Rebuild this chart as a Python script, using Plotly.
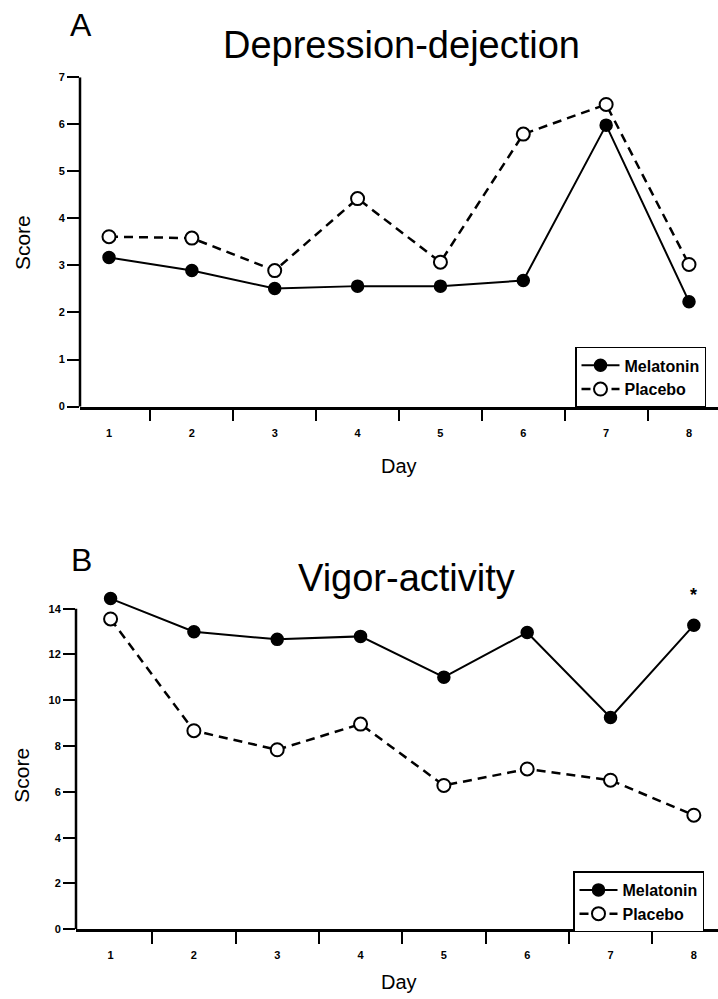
import plotly.graph_objects as go

days = [1, 2, 3, 4, 5, 6, 7, 8]
day_labels = ["1", "2", "3", "4", "5", "6", "7", "8"]

# Panel A: Depression-dejection
dep_melatonin = [3.17, 2.89, 2.51, 2.56, 2.56, 2.68, 5.98, 2.23]
dep_placebo = [3.61, 3.58, 2.89, 4.42, 3.07, 5.79, 6.42, 3.02]

# Panel B: Vigor-activity
vig_melatonin = [14.44, 12.99, 12.66, 12.79, 11.01, 12.96, 9.25, 13.28]
vig_placebo = [13.55, 8.67, 7.84, 8.96, 6.28, 7.00, 6.51, 4.98]

dep_yticks = [0, 1, 2, 3, 4, 5, 6, 7]
vig_yticks = [0, 2, 4, 6, 8, 10, 12, 14]

W, H = 718, 999
FONT = "Liberation Sans, Arial, Helvetica, sans-serif"

def px_x(p):
    return p / W

def px_y(p):
    return 1 - p / H

fig = go.Figure()

def add_pair(mel, pla, xa, ya, legend):
    fig.add_trace(go.Scatter(
        x=days, y=mel, name="Melatonin", mode="lines+markers",
        line=dict(color="black", width=2),
        marker=dict(symbol="circle", size=12, color="black",
                    line=dict(color="black", width=1.5)),
        xaxis=xa, yaxis=ya, legend=legend, cliponaxis=False))
    fig.add_trace(go.Scatter(
        x=days, y=pla, name="Placebo", mode="lines+markers",
        line=dict(color="black", width=2.5, dash="9px,6px"),
        marker=dict(symbol="circle", size=13, color="white",
                    line=dict(color="black", width=2)),
        xaxis=xa, yaxis=ya, legend=legend, cliponaxis=False))

add_pair(dep_melatonin, dep_placebo, "x", "y", "legend")
add_pair(vig_melatonin, vig_placebo, "x2", "y2", "legend2")

tickfont = dict(family=FONT, size=11, color="black", weight="bold")

def xaxis_cfg(domain, rng, anchor):
    return dict(
        domain=domain, range=rng, anchor=anchor,
        tickmode="array", tickvals=days, ticktext=day_labels,
        ticks="outside", ticklen=14, tickcolor="rgba(0,0,0,0)",
        tickfont=dict(family=FONT, size=11, color="black", weight="bold"),
        showline=True, linecolor="black", linewidth=2.5,
        showgrid=False, zeroline=False,
        minor=dict(tickmode="array", tickvals=[d + 0.5 for d in days[:-1]],
                   ticks="outside", ticklen=12, tickwidth=1.5, tickcolor="black",
                   showgrid=False),
    )

def yaxis_cfg(domain, rng, tickvals, anchor):
    return dict(
        domain=domain, range=rng, anchor=anchor,
        tickmode="array", tickvals=tickvals,
        ticks="outside", ticklen=12, tickwidth=1.5, tickcolor="black",
        tickfont=tickfont, showline=False,
        showgrid=False, zeroline=False,
    )

legend_style = dict(
    bgcolor="white", bordercolor="black", borderwidth=1.5,
    font=dict(family=FONT, size=16, color="black", weight="bold"),
    xanchor="left", yanchor="top", tracegroupgap=0,
    itemwidth=38,
)

# Panel B: range extends above the top tick so the day-1 point is shown
vig_top = 15
unit_b = (934.5 - 610) / vig_yticks[-1]

fig.update_layout(
    width=W, height=H,
    margin=dict(l=0, r=0, t=0, b=0),
    paper_bgcolor="white", plot_bgcolor="white",
    showlegend=True,
    xaxis=xaxis_cfg([px_x(80), 1.0], [0.65, 8.35], "y"),
    yaxis=yaxis_cfg([px_y(405.5), px_y(72)], [0, dep_yticks[-1]], dep_yticks, "x"),
    xaxis2=xaxis_cfg([px_x(76), 1.0], [0.585, 8.29], "y2"),
    yaxis2=yaxis_cfg([px_y(934.5), px_y(934.5 - vig_top * unit_b)], [0, vig_top], vig_yticks, "x2"),
    legend=dict(x=px_x(575), y=px_y(345), **legend_style),
    legend2=dict(x=px_x(573), y=px_y(876), **legend_style),
)

# y-axis lines running from 0 to the top tick
fig.add_shape(type="line", xref="x domain", yref="y", x0=0, x1=0,
              y0=dep_yticks[0], y1=dep_yticks[-1], line=dict(color="black", width=2.5))
fig.add_shape(type="line", xref="x2 domain", yref="y2", x0=0, x1=0,
              y0=vig_yticks[0], y1=vig_yticks[-1], line=dict(color="black", width=2.5))

annotations = [
    dict(text="A", x=px_x(81), y=px_y(19), font=dict(size=32)),
    dict(text="Depression-dejection", x=px_x(401), y=px_y(39), font=dict(size=38)),
    dict(text="B", x=px_x(81), y=px_y(561), font=dict(size=32)),
    dict(text="Vigor-activity", x=px_x(406), y=px_y(579), font=dict(size=38)),
    dict(text="Score", x=px_x(22), y=px_y(240), textangle=-90, font=dict(size=21)),
    dict(text="Day", x=px_x(399), y=px_y(466), font=dict(size=20)),
    dict(text="Score", x=px_x(22), y=px_y(779), textangle=-90, font=dict(size=21)),
    dict(text="Day", x=px_x(399), y=px_y(988), font=dict(size=20)),
]
for a in annotations:
    f = dict(family=FONT, color="black")
    f.update(a.pop("font"))
    fig.add_annotation(xref="paper", yref="paper", showarrow=False,
                       xanchor="center", yanchor="middle", font=f, **a)

# significance asterisk above last melatonin point in panel B
fig.add_annotation(xref="x2", yref="y2", x=days[-1], y=vig_melatonin[-1],
                   yshift=30, text="*", showarrow=False,
                   font=dict(family=FONT, size=18, color="black", weight="bold"))

fig.write_html("out.html")
